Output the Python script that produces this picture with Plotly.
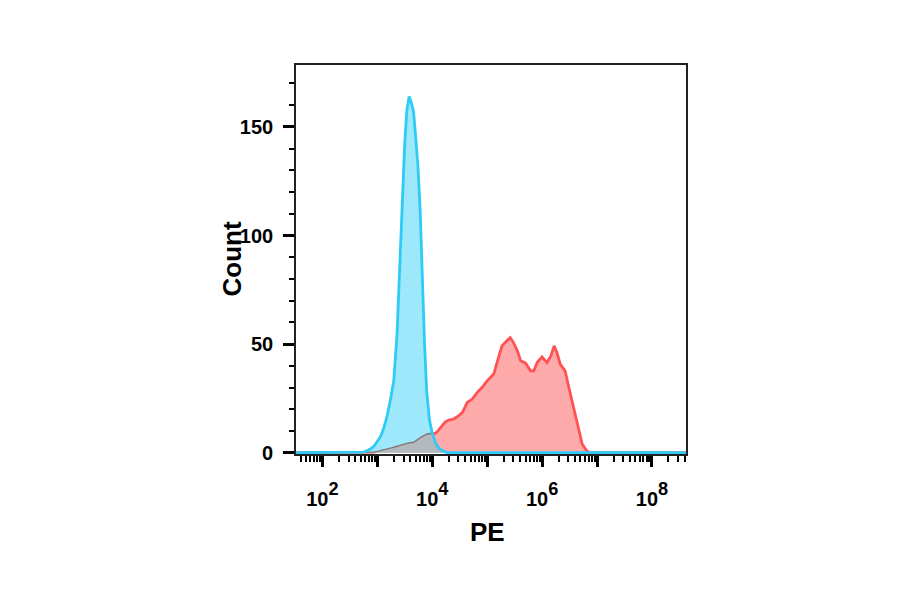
import numpy as np
import plotly.graph_objects as go

# PE intensity grid (log10 units), shared by both histograms
pe_log = [1.52, 2.70, 2.76, 2.82, 2.88, 2.94, 3.00, 3.06, 3.12, 3.18, 3.24, 3.30,
          3.36, 3.42, 3.46, 3.50, 3.54, 3.58, 3.62, 3.66, 3.70, 3.74, 3.78, 3.82,
          3.86, 3.90, 3.95, 4.00, 4.06, 4.12, 4.18, 4.24, 4.30, 4.39, 4.47, 4.55,
          4.64, 4.73, 4.82, 4.91, 5.00, 5.06, 5.12, 5.18, 5.27, 5.36, 5.42, 5.48,
          5.55, 5.61, 5.70, 5.79, 5.85, 5.91, 6.00, 6.09, 6.16, 6.22, 6.27, 6.33,
          6.42, 6.48, 6.55, 6.61, 6.67, 6.73, 6.81, 6.88, 8.62]

# controle (azul)
count_ctrl = [0, 0, 0.3, 1.0, 1.8, 3.0, 5.0, 7.5, 11.5, 17, 24.5, 33,
              55, 90, 118, 143, 158, 164, 161, 157, 145, 132, 112, 80,
              50, 28, 15, 9, 4.5, 2.2, 1.0, 0.3, 0, 0, 0, 0,
              0, 0, 0, 0, 0, 0, 0, 0, 0, 0, 0, 0,
              0, 0, 0, 0, 0, 0, 0, 0, 0, 0, 0, 0,
              0, 0, 0, 0, 0, 0, 0, 0, 0]

# amostra corada (vermelho)
count_pe = [0, 0, 0, 0, 0, 0.3, 0.6, 0.9, 1.2, 1.6, 2.1, 2.5,
            3.0, 3.6, 3.9, 4.1, 4.3, 4.5, 4.6, 4.8, 5.4, 6.2, 7.0, 7.5,
            8.0, 8.6, 8.8, 8.7, 9.0, 10.5, 12.5, 14.2, 15.0, 15.5, 16.8, 18.6,
            23.2, 24.7, 27.8, 30.1, 33.1, 34.5, 36.2, 41.5, 49.2, 51.5, 53, 50.7,
            46.9, 42.3, 41.2, 37.7, 37.7, 41.5, 44.1, 41.5, 44.6, 49.2, 46.1, 40.8,
            37.7, 30.8, 23.2, 15.5, 9.4, 4.0, 0.9, 0, 0]

x_tick_exp = [2, 3, 4, 5, 6, 7, 8]
y_ticks = [0, 50, 100, 150]

pe = np.power(10.0, pe_log)
overlap = np.minimum(count_ctrl, count_pe)

fig = go.Figure()
fig.add_trace(go.Scatter(x=pe, y=count_pe, mode='lines', fill='tozeroy',
                         line=dict(color='#FF5252', width=2.8), fillcolor='#FFAAAA'))
fig.add_trace(go.Scatter(x=pe, y=count_ctrl, mode='none', fill='tozeroy',
                         fillcolor='#9EE8FC'))
fig.add_trace(go.Scatter(x=pe, y=overlap, mode='lines', fill='tozeroy',
                         line=dict(color='#857878', width=1.5), fillcolor='#B3B9BD'))
fig.add_trace(go.Scatter(x=pe, y=count_ctrl, mode='lines',
                         line=dict(color='#2FCBF7', width=2.8)))

# ticks: decades major, 2..9 minor; expoente quase do tamanho da base
x_major = [10.0 ** e for e in x_tick_exp]
x_text = ['<span style="font-size:20px">10</span><sup>%d</sup>' % e if e % 2 == 0 else ''
          for e in x_tick_exp]
x_minor = [k * 10.0 ** e for e in range(1, 9) for k in range(2, 10)]

bold = dict(family='Liberation Sans, Arial', size=20, color='black', weight='bold')
xbold = dict(bold, size=26)
title_font = dict(family='Liberation Sans, Arial', size=26, color='black', weight='bold')

# a pagina tem ~8px de margem no body, descontado aqui
fig.update_layout(
    width=900, height=594,
    margin=dict(l=288, r=222, t=57, b=148),
    plot_bgcolor='white', paper_bgcolor='white',
    showlegend=False,
    xaxis=dict(type='log', range=[1.52, 8.62],
               tickmode='array', tickvals=x_major, ticktext=x_text,
               ticks='outside', ticklen=11, tickwidth=2.5, tickcolor='black',
               minor=dict(tickmode='array', tickvals=x_minor, ticks='outside',
                          ticklen=6, tickwidth=1.5, tickcolor='black'),
               showline=True, mirror=True, linecolor='#222222', linewidth=1.6,
               showgrid=False, zeroline=False, tickfont=xbold, ticklabelstandoff=8),
    yaxis=dict(range=[-0.6, 178.5],
               tickmode='array', tickvals=y_ticks,
               ticks='outside', ticklen=11, tickwidth=2.5, tickcolor='black',
               minor=dict(dtick=10, tick0=0, ticks='outside',
                          ticklen=5, tickwidth=1.5, tickcolor='black'),
               showline=True, mirror=True, linecolor='#222222', linewidth=1.6,
               showgrid=False, zeroline=False, tickfont=bold, ticklabelstandoff=6),
    annotations=[
        dict(text='Count', xref='paper', yref='paper', x=0, y=0.5, xshift=-65,
             xanchor='center', yanchor='middle', textangle=-90, showarrow=False,
             font=title_font),
        dict(text='PE', xref='paper', yref='paper', x=0.492, y=0, yshift=-78,
             xanchor='center', yanchor='middle', showarrow=False, font=title_font),
    ],
)

fig.write_html("out.html")
